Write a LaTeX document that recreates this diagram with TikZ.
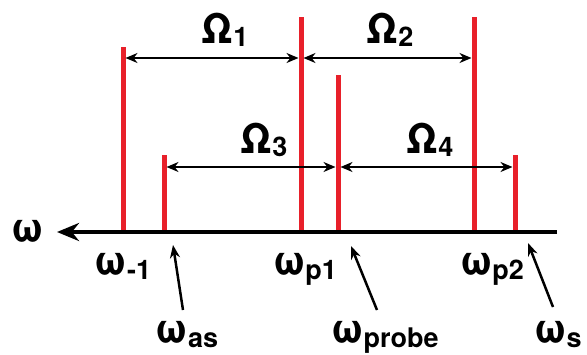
\documentclass[tikz,border=0pt]{standalone}
\usepackage{fontspec}
\setmainfont{TeX Gyre Heros}
\usetikzlibrary{arrows.meta,positioning}
\definecolor{linered}{RGB}{232,32,42}
\newcommand{\wsub}[1]{ω\raisebox{-4pt}{\fontsize{27}{27}\selectfont #1}}
\newcommand{\osub}[1]{Ω\raisebox{-3pt}{\fontsize{27}{27}\selectfont #1}}

\begin{document}
\begin{tikzpicture}[x=1pt, y=-1pt,
  font=\bfseries\fontsize{41}{44}\selectfont,
  line/.style={draw=linered, line width=5pt},
  gap/.style={{Stealth[length=12pt,width=10pt]}-{Stealth[length=12pt,width=10pt]}, line width=2.5pt, shorten <=2.5pt, shorten >=2.5pt},
  ptr/.style={-{Stealth[length=13pt,width=10pt]}, line width=2.5pt},
  lbl/.style={anchor=base, inner sep=0pt}]
  \useasboundingbox (0,0) rectangle (587,354);
  % spectral lines
  \foreach \n/\x/\t in {m1/123/47, as/164/155, p1/301/17, pr/338/75, p2/474/17, s/515/155} {
    \coordinate (\n) at (\x,232);
    \coordinate (\n top) at (\x,\t);
    \draw[line] (\n) -- (\n top);
  }
  % frequency axis
  \coordinate (axR) at (557,232);
  \coordinate (axL) at (57,232);
  \draw[line width=4pt, -{Stealth[length=22pt,width=18pt]}] (axR) -- (axL);
  \node[lbl] (wax) at (28,242) {ω};
  % spacings
  \coordinate (lvlA) at (0,58);
  \coordinate (lvlB) at (0,167);
  \draw[gap] (m1 |- lvlA) -- (p1 |- lvlA);
  \draw[gap] (p1 |- lvlA) -- (p2 |- lvlA);
  \draw[gap] (as |- lvlB) -- (pr |- lvlB);
  \draw[gap] (pr |- lvlB) -- (s |- lvlB);
  \node[lbl] (O1) at (225,43) {\osub{1}};
  \node[lbl] (O2) at (390,43) {\osub{2}};
  \node[lbl] (O3) at (264,153) {\osub{3}};
  \node[lbl] (O4) at (430,153) {\osub{4}};
  % labels under the axis
  \node[lbl] (wm1) at (123,275) {\wsub{-1}};
  \node[lbl] (wp1) at (305,275) {\wsub{p1}};
  \node[lbl] (wp2) at (492,275) {\wsub{p2}};
  \node[lbl] (was) at (187,343) {\wsub{as}};
  \node[lbl] (wpr) at (385,343) {\wsub{probe}};
  \node[lbl] (ws) at (558,343) {\wsub{s}};
  \coordinate (as tail) at (183,310);
  \coordinate (as tip) at (173,245);
  \coordinate (pr tail) at (377,310);
  \coordinate (pr tip) at (351,246);
  \coordinate (s tail) at (553,307);
  \coordinate (s tip) at (528,243);
  \draw[ptr] (as tail) -- (as tip);
  \draw[ptr] (pr tail) -- (pr tip);
  \draw[ptr] (s tail) -- (s tip);
\end{tikzpicture}
\end{document}
